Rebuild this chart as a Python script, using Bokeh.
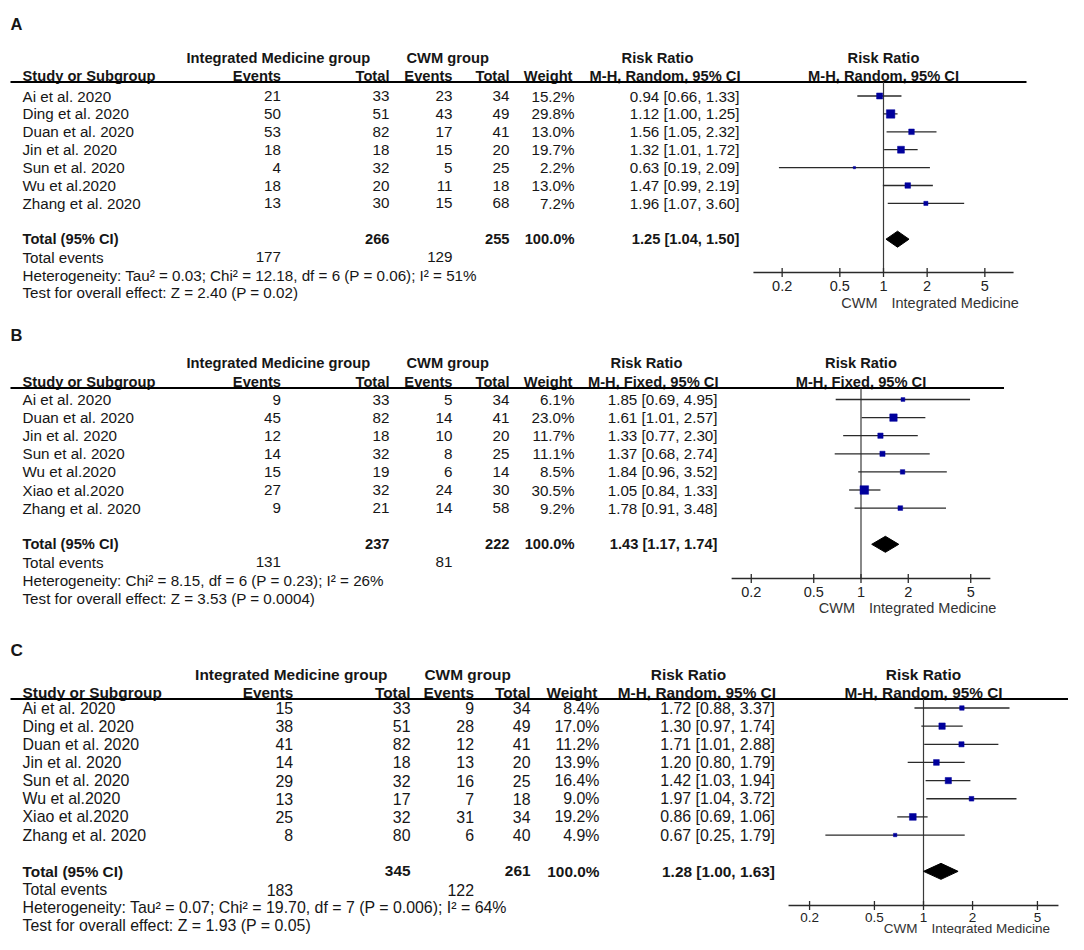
import math
from bokeh.plotting import figure
from bokeh.models import Range1d, LogScale
from bokeh.core.properties import value
from bokeh.embed import file_html
from bokeh.resources import INLINE

# ---------------- data ----------------
a_study = ["Ai et al. 2020", "Ding et al. 2020", "Duan et al. 2020", "Jin et al. 2020",
           "Sun et al. 2020", "Wu et al.2020", "Zhang et al. 2020"]
a_im_ev = [21, 50, 53, 18, 4, 18, 13]
a_im_tot = [33, 51, 82, 18, 32, 20, 30]
a_cw_ev = [23, 43, 17, 15, 5, 11, 15]
a_cw_tot = [34, 49, 41, 20, 25, 18, 68]
a_weight = [15.2, 29.8, 13.0, 19.7, 2.2, 13.0, 7.2]
a_rr = [0.94, 1.12, 1.56, 1.32, 0.63, 1.47, 1.96]
a_lo = [0.66, 1.00, 1.05, 1.01, 0.19, 0.99, 1.07]
a_hi = [1.33, 1.25, 2.32, 1.72, 2.09, 2.19, 3.60]
a_total = [266, 255]
a_events = [177, 129]
a_pooled = [1.25, 1.04, 1.50]
a_method = "M-H, Random, 95% CI"
a_het = "Heterogeneity: Tau\u00b2 = 0.03; Chi\u00b2 = 12.18, df = 6 (P = 0.06); I\u00b2 = 51%"
a_test = "Test for overall effect: Z = 2.40 (P = 0.02)"

b_study = ["Ai et al. 2020", "Duan et al. 2020", "Jin et al. 2020", "Sun et al. 2020",
           "Wu et al.2020", "Xiao et al.2020", "Zhang et al. 2020"]
b_im_ev = [9, 45, 12, 14, 15, 27, 9]
b_im_tot = [33, 82, 18, 32, 19, 32, 21]
b_cw_ev = [5, 14, 10, 8, 6, 24, 14]
b_cw_tot = [34, 41, 20, 25, 14, 30, 58]
b_weight = [6.1, 23.0, 11.7, 11.1, 8.5, 30.5, 9.2]
b_rr = [1.85, 1.61, 1.33, 1.37, 1.84, 1.05, 1.78]
b_lo = [0.69, 1.01, 0.77, 0.68, 0.96, 0.84, 0.91]
b_hi = [4.95, 2.57, 2.30, 2.74, 3.52, 1.33, 3.48]
b_total = [237, 222]
b_events = [131, 81]
b_pooled = [1.43, 1.17, 1.74]
b_method = "M-H, Fixed, 95% CI"
b_het = "Heterogeneity: Chi\u00b2 = 8.15, df = 6 (P = 0.23); I\u00b2 = 26%"
b_test = "Test for overall effect: Z = 3.53 (P = 0.0004)"

c_study = ["Ai et al. 2020", "Ding et al. 2020", "Duan et al. 2020", "Jin et al. 2020",
           "Sun et al. 2020", "Wu et al.2020", "Xiao et al.2020", "Zhang et al. 2020"]
c_im_ev = [15, 38, 41, 14, 29, 13, 25, 8]
c_im_tot = [33, 51, 82, 18, 32, 17, 32, 80]
c_cw_ev = [9, 28, 12, 13, 16, 7, 31, 6]
c_cw_tot = [34, 49, 41, 20, 25, 18, 34, 40]
c_weight = [8.4, 17.0, 11.2, 13.9, 16.4, 9.0, 19.2, 4.9]
c_rr = [1.72, 1.30, 1.71, 1.20, 1.42, 1.97, 0.86, 0.67]
c_lo = [0.88, 0.97, 1.01, 0.80, 1.03, 1.04, 0.69, 0.25]
c_hi = [3.37, 1.74, 2.88, 1.79, 1.94, 3.72, 1.06, 1.79]
c_total = [345, 261]
c_events = [183, 122]
c_pooled = [1.28, 1.00, 1.63]
c_method = "M-H, Random, 95% CI"
c_het = "Heterogeneity: Tau\u00b2 = 0.07; Chi\u00b2 = 19.70, df = 7 (P = 0.006); I\u00b2 = 64%"
c_test = "Test for overall effect: Z = 1.93 (P = 0.05)"

tick_values = [0.2, 0.5, 1, 2, 5]
tick_labels = ["0.2", "0.5", "1", "2", "5"]
favours = ["CWM", "Integrated Medicine"]
panel_labels = ["A", "B", "C"]

# ---------------- layout ----------------
W, H = 1068, 934
p = figure(width=W, height=H, x_range=Range1d(0, W), y_range=Range1d(H, 0),
           output_backend="svg", toolbar_location=None, min_border=0,
           x_axis_location=None, y_axis_location=None)
p.grid.visible = False
p.outline_line_color = None
p.background_fill_color = "white"
p.border_fill_color = "white"

FONT = value("Liberation Sans")
TXT = "#161616"

layouts = [
    dict(label_y=23, h1=57, h2=75, line=81.5, line_x0=10, line_x1=1026, row0=95.5, step=17.9,
         c_ev1=280.5, c_tot1=389, c_ev2=452, c_tot2=509, c_w=574, c_rr=739,
         g1=186, g2=406, rrh=657, x1=883, dec=145, half=0.897,
         axis_y=272, tick_y=285.5, foot_y=302, fs=15.2, fb=14.7, ft=14.5),
    dict(label_y=334, h1=362.5, h2=381, line=387.5, line_x0=10, line_x1=1003.5, row0=399, step=18.1,
         c_ev1=280.5, c_tot1=389, c_ev2=452, c_tot2=509, c_w=574, c_rr=717,
         g1=186, g2=406, rrh=646, x1=860.5, dec=157, half=0.824,
         axis_y=578, tick_y=591.5, foot_y=607, fs=15.2, fb=14.7, ft=14.5),
    dict(label_y=649.5, h1=674, h2=692, line=698.5, line_x0=10, line_x1=1068, row0=707.5, step=18.15,
         c_ev1=292.7, c_tot1=410, c_ev2=473.5, c_tot2=530, c_w=599, c_rr=774.5,
         g1=194.6, g2=424, rrh=688, x1=923, dec=163, half=0.828,
         axis_y=905, tick_y=916.5, foot_y=927.5, fs=15.9, fb=15.4, ft=13.5),
]

panels = [
    dict(study=a_study, im_ev=a_im_ev, im_tot=a_im_tot, cw_ev=a_cw_ev, cw_tot=a_cw_tot,
         weight=a_weight, rr=a_rr, lo=a_lo, hi=a_hi, total=a_total, events=a_events,
         pooled=a_pooled, method=a_method, het=a_het, test=a_test),
    dict(study=b_study, im_ev=b_im_ev, im_tot=b_im_tot, cw_ev=b_cw_ev, cw_tot=b_cw_tot,
         weight=b_weight, rr=b_rr, lo=b_lo, hi=b_hi, total=b_total, events=b_events,
         pooled=b_pooled, method=b_method, het=b_het, test=b_test),
    dict(study=c_study, im_ev=c_im_ev, im_tot=c_im_tot, cw_ev=c_cw_ev, cw_tot=c_cw_tot,
         weight=c_weight, rr=c_rr, lo=c_lo, hi=c_hi, total=c_total, events=c_events,
         pooled=c_pooled, method=c_method, het=c_het, test=c_test),
]

# log-scaled extra x ranges, one per panel
xr, xs = {}, {}
for i, L in enumerate(layouts):
    key = "f%d" % i
    xr[key] = Range1d(10 ** ((0 - L["x1"]) / L["dec"]), 10 ** ((W - L["x1"]) / L["dec"]))
    xs[key] = LogScale()
p.extra_x_ranges = xr
p.extra_x_scales = xs


def text(x, y, t, size, bold=False, align="left", color=TXT, rn="default", x_offset=0):
    if not isinstance(x, list):
        x = [x] * (len(t) if isinstance(t, list) else 1)
    if not isinstance(y, list):
        y = [y] * len(x)
    if not isinstance(t, list):
        t = [t]
    p.text(x=x, y=y, text=t, text_font=FONT, text_font_size="%.1fpx" % size,
           text_font_style="bold" if bold else "normal", text_align=align,
           text_baseline="middle", text_color=color, x_range_name=rn, x_offset=x_offset)


for i, (D, L) in enumerate(zip(panels, layouts)):
    key = "f%d" % i
    fs, fb, ft = L["fs"], L["fb"], L["ft"]
    n = len(D["study"])
    ys = [L["row0"] + k * L["step"] for k in range(n)]
    y_tot = L["row0"] + (n + 1) * L["step"]
    y_ev = y_tot + L["step"]
    y_het = y_ev + L["step"]
    y_test = y_het + L["step"]

    # panel label
    text(10, L["label_y"], panel_labels[i], fb + 1.8, bold=True)

    # headers
    text(L["g1"], L["h1"], "Integrated Medicine group", fb, bold=True)
    text(L["g2"], L["h1"], "CWM group", fb, bold=True)
    text(L["rrh"], L["h1"], "Risk Ratio", fb, bold=True, align="center")
    text(1, L["h1"], "Risk Ratio", fb, bold=True, align="center", rn=key)
    text(22, L["h2"], "Study or Subgroup", fb, bold=True)
    text([L["c_ev1"], L["c_tot1"], L["c_ev2"], L["c_tot2"], L["c_w"] - 2, L["c_rr"] + 1],
         L["h2"], ["Events", "Total", "Events", "Total", "Weight", D["method"]], fb,
         bold=True, align="right")
    text(1, L["h2"], D["method"], fb, bold=True, align="center", rn=key)
    p.segment(x0=[L["line_x0"]], y0=[L["line"]], x1=[L["line_x1"]], y1=[L["line"]],
              line_color="#000000", line_width=2)

    # study rows
    text(22, ys, D["study"], fs)
    text(L["c_ev1"], ys, [str(v) for v in D["im_ev"]], fs, align="right")
    text(L["c_tot1"], ys, [str(v) for v in D["im_tot"]], fs, align="right")
    text(L["c_ev2"], ys, [str(v) for v in D["cw_ev"]], fs, align="right")
    text(L["c_tot2"], ys, [str(v) for v in D["cw_tot"]], fs, align="right")
    text(L["c_w"], ys, ["%.1f%%" % v for v in D["weight"]], fs, align="right")
    text(L["c_rr"], ys, ["%.2f [%.2f, %.2f]" % (r, a, b)
                         for r, a, b in zip(D["rr"], D["lo"], D["hi"])], fs, align="right")

    # totals
    text(22, y_tot, "Total (95% CI)", fb, bold=True)
    text([L["c_tot1"], L["c_tot2"]], y_tot, [str(v) for v in D["total"]], fb, bold=True, align="right")
    text(L["c_w"], y_tot, "100.0%", fb, bold=True, align="right")
    pr = D["pooled"]
    text(L["c_rr"], y_tot, "%.2f [%.2f, %.2f]" % (pr[0], pr[1], pr[2]), fb, bold=True, align="right")
    text(22, y_ev, "Total events", fs)
    text([L["c_ev1"], L["c_ev2"]], y_ev, [str(v) for v in D["events"]], fs, align="right")
    text(22, y_het, D["het"], fs)
    text(22, y_test, D["test"], fs)

    # forest plot
    p.segment(x0=[1], y0=[L["line"]], x1=[1], y1=[L["axis_y"]], line_color="#3a3a3a",
              line_width=1.2, x_range_name=key)
    p.segment(x0=D["lo"], y0=ys, x1=D["hi"], y1=ys, line_color="#2a2a2a", line_width=1.3,
              x_range_name=key)
    p.scatter(x=D["rr"], y=ys, size=[1.55 * math.sqrt(w) for w in D["weight"]], marker="square",
              fill_color="#00009c", line_color="#00009c", line_width=0.5, x_range_name=key)
    p.patches(xs=[[pr[1], pr[0], pr[2], pr[0]]], ys=[[y_tot, y_tot - 8, y_tot, y_tot + 8]],
              fill_color="#000000", line_color="#000000", x_range_name=key)

    # axis
    amin, amax = 10 ** (-L["half"]), 10 ** (L["half"])
    p.segment(x0=[amin], y0=[L["axis_y"]], x1=[amax], y1=[L["axis_y"]], line_color="#2a2a2a",
              line_width=1.3, x_range_name=key)
    p.segment(x0=tick_values, y0=[L["axis_y"] - 4.5] * 5, x1=tick_values, y1=[L["axis_y"] + 4.5] * 5,
              line_color="#2a2a2a", line_width=1.3, x_range_name=key)
    text(tick_values, L["tick_y"], tick_labels, ft, align="center", color="#222222", rn=key)
    text(1, L["foot_y"], favours[0], ft, align="right", color="#333333", rn=key, x_offset=-6)
    text(1, L["foot_y"], favours[1], ft, align="left", color="#333333", rn=key, x_offset=8)

open("out.html", "w").write(file_html(p, INLINE))
